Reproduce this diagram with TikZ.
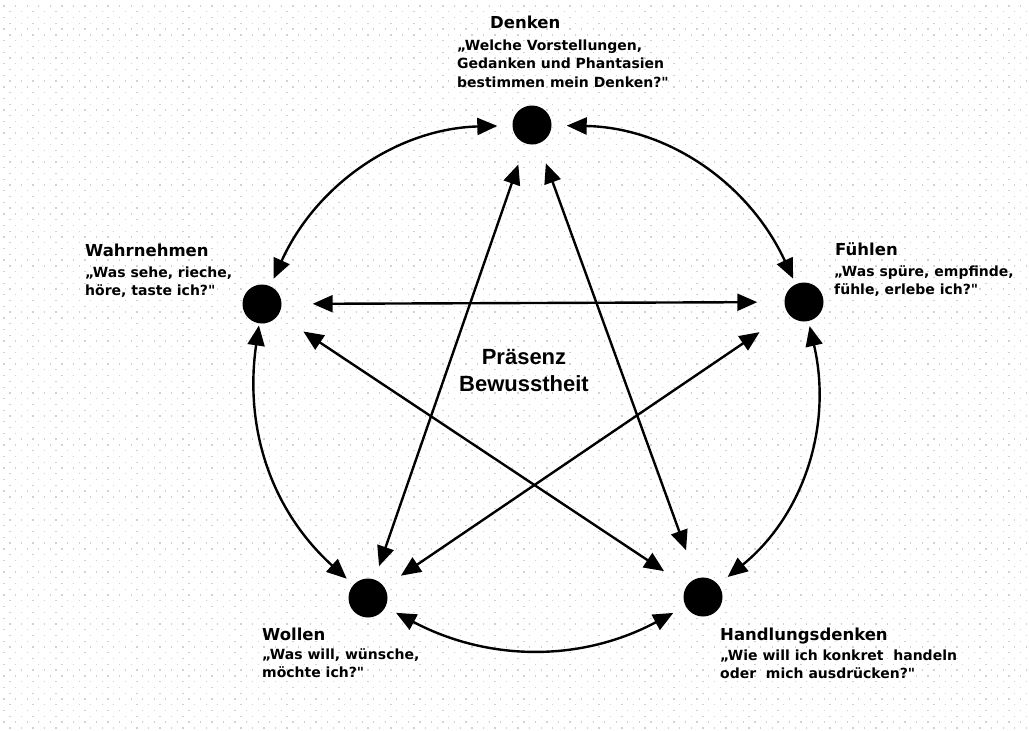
\documentclass[tikz,border=0pt]{standalone}
\usepackage{fontspec}
\setmainfont{DejaVu Sans}[Ligatures=TeXOff]
\newfontfamily\centerfont{Liberation Sans}
\usetikzlibrary{arrows.meta}
\begin{document}
\begin{tikzpicture}[x=1pt,y=-1pt,
  griddot/.style={line width=1.3pt, draw=black!18, dash pattern=on 1.3pt off 10.25pt},
  dotnode/.style={circle, fill=black, minimum size=39pt, inner sep=0pt},
  conn/.style={line width=2.4pt, {Triangle[length=20pt,width=17pt]}-{Triangle[length=20pt,width=17pt]}},
  titletext/.style={anchor=base west, inner sep=0pt, font=\bfseries\fontsize{16.5}{20}\selectfont},
  bodytext/.style={anchor=north west, inner sep=0pt, align=left, font=\bfseries\fontsize{14}{18.5}\selectfont},
  centertext/.style={anchor=north, inner sep=0pt, align=center, font=\centerfont\bfseries\fontsize{22}{27}\selectfont}
]
\useasboundingbox (0,0) rectangle (1029,731);
\fill[white] (0,0) rectangle (1029,731);
\foreach \k in {0,...,126}{
  \pgfmathsetmacro\yy{6+5.775*\k}
  \pgfmathsetmacro\xs{3.45+5.775*mod(\k,2)}
  \draw[griddot] (\xs,\yy) -- (1029,\yy);
}

% dots
\node[dotnode] (D)  at (532,125) {};
\node[dotnode] (W)  at (262,304) {};
\node[dotnode] (F)  at (804,302) {};
\node[dotnode] (Wo) at (368,598) {};
\node[dotnode] (H)  at (703,597) {};

% labels
\node[titletext] (Dt) at (490,28) {Denken};
\node[bodytext] (Db) at (457,39.4) {„Welche Vorstellungen,\\Gedanken und Phantasien\\bestimmen mein Denken?"};
\node[titletext] (Wt) at (85,256) {Wahrnehmen};
\node[bodytext] (Wb) at (85,266.4) {„Was sehe, rieche,\\höre, taste ich?"};
\node[titletext] (Ft) at (835,255) {Fühlen};
\node[bodytext] (Fb) at (834,265.4) {„Was spüre, empfinde,\\fühle, erlebe ich?"};
\node[titletext] (Wot) at (262,640) {Wollen};
\node[bodytext] (Wob) at (262,648.4) {„Was will, wünsche,\\möchte ich?"};
\node[titletext] (Ht) at (720,640) {Handlungsdenken};
\node[bodytext] (Hb) at (720,649.4) {„Wie will ich konkret\ \ handeln\\oder\ \ mich ausdrücken?"};
\node[centertext] (C) at (524,349) {Präsenz\\Bewusstheit};

% outer arcs
\draw[conn, shorten <=15pt, shorten >=8pt] (D) to[bend right=32] (W);
\draw[conn, shorten <=2pt, shorten >=9pt] (W) to[bend right=28] (Wo);
\draw[conn, shorten <=12pt, shorten >=14pt] (Wo) to[bend right=28] (H);
\draw[conn, shorten <=12pt, shorten >=5pt] (H) to[bend right=32] (F);
\draw[conn, shorten <=6pt, shorten >=15pt] (F) to[bend right=32] (D);

% inner star
\draw[conn, shorten <=22pt, shorten >=14pt] (D) -- (Wo);
\draw[conn, shorten <=21pt, shorten >=30pt] (D) -- (H);
\draw[conn, shorten <=31pt, shorten >=27pt] (W) -- (F);
\draw[conn, shorten <=30pt, shorten >=27pt] (W) -- (H);
\draw[conn, shorten <=34pt, shorten >=20pt] (F) -- (Wo);
\end{tikzpicture}
\end{document}
